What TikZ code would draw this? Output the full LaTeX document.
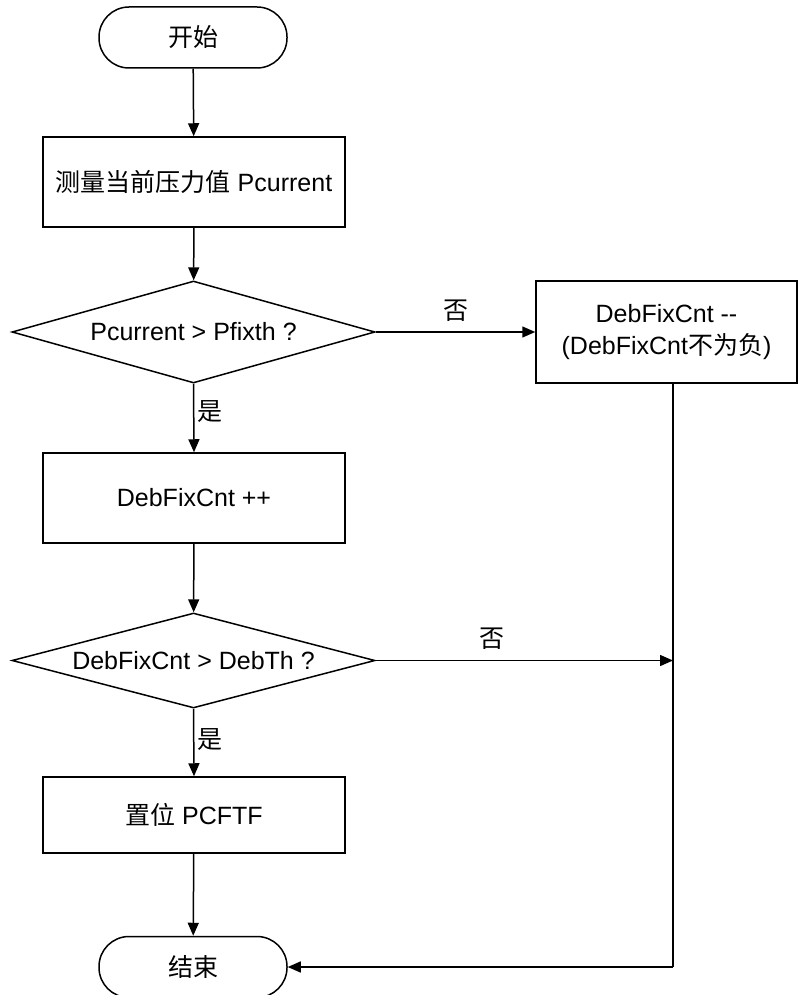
\documentclass[tikz,border=0pt]{standalone}
\usepackage{fontspec}
\setmainfont{Liberation Sans}
\newfontfamily\cjk{Noto Sans CJK SC}
\usetikzlibrary{arrows.meta,shapes.geometric}
\begin{document}
\begin{tikzpicture}[x=1pt,y=-1pt,
  every node/.style={font=\fontsize{25}{30}\selectfont},
  base/.style={draw,line width=1.5pt,inner sep=0pt,align=center},
  term/.style={base,rectangle,rounded corners=30pt,minimum width=188pt,minimum height=61pt},
  proc/.style={base,rectangle,minimum width=302pt},
  dec/.style={base,diamond,aspect=3.56,minimum width=363pt},
  conn/.style={line width=1.5pt,-{Triangle[length=13pt,width=11pt]}},
  line/.style={line width=1.5pt},
  lbl/.style={inner sep=0pt}]
\useasboundingbox (0,0) rectangle (800,995);
\node[term] (start) at (193,37.5) {{\cjk 开始}};
\node[proc,minimum height=90pt] (p1) at (194,182) {{\cjk 测量当前压力值} Pcurrent};
\node[dec,minimum height=102pt] (d1) at (193.5,332) {Pcurrent > Pfixth ?};
\node[base,rectangle,minimum width=261pt,minimum height=102pt] (rb) at (666.5,332) {DebFixCnt -{}-\\[2pt](DebFixCnt{\cjk 不为负})};
\node[proc,minimum height=90pt] (p2) at (194,498) {DebFixCnt ++};
\node[dec,minimum height=95pt] (d2) at (193.5,660.5) {DebFixCnt > DebTh ?};
\node[proc,minimum height=76pt] (p3) at (194,815) {{\cjk 置位} PCFTF};
\node[term] (end) at (193,967) {{\cjk 结束}};
\coordinate (c1) at (673,660.5);
\coordinate (c2) at (673,967);
\draw[conn] (start) -- (p1);
\draw[conn] (p1) -- (d1);
\draw[conn] (d1.east) -- node[lbl,above=10pt]{\cjk 否} (rb.west);
\draw[conn] (d1.south) -- node[lbl,right=3pt,pos=0.4]{\cjk 是} (p2.north);
\draw[conn] (p2) -- (d2);
\draw[conn] (d2.east) -- node[lbl,above=10pt,pos=0.39]{\cjk 否} (c1);
\draw[conn] (d2.south) -- node[lbl,right=3pt,pos=0.45]{\cjk 是} (p3.north);
\draw[conn] (p3) -- (end);
\draw[line] (c1 |- rb.south) -- (c2);
\draw[conn] (c2) -- (end.east);
\end{tikzpicture}
\end{document}
